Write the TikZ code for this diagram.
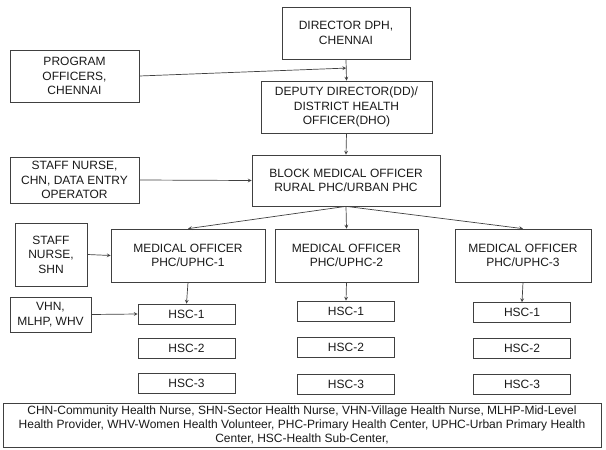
\documentclass[tikz,border=0pt]{standalone}
\usepackage{fontspec}
\setmainfont{Liberation Sans}
\usetikzlibrary{arrows, positioning, calc}
\tikzset{
    box/.style={rectangle, draw=black!75, line width=0.7pt, align=center, inner sep=1pt, text=black!90, font=\fontsize{12}{14.5}\selectfont},
    hsc/.style={box, minimum width=97pt, minimum height=20pt},
    legend/.style={box, minimum width=598pt, minimum height=44pt, font=\fontsize{12}{14}\selectfont},
    arrow/.style={draw=black!75, line width=0.7pt, ->, >=stealth}
}

\begin{document}
\begin{tikzpicture}[x=1pt, y=-1pt, node distance=14pt]
    \useasboundingbox (0,0) rectangle (606,450);
    \node (dir) [box, minimum width=128pt, minimum height=52pt] at (346,33) {DIRECTOR DPH,\\CHENNAI};
    \node (prog) [box, minimum width=129pt, minimum height=52pt] at (74.5,76) {PROGRAM\\OFFICERS,\\CHENNAI};
    \node (dep) [box, minimum width=171pt, minimum height=52pt] at (346.5,107) {DEPUTY DIRECTOR(DD)/\\DISTRICT HEALTH\\OFFICER(DHO)};
    \node (chn) [box, minimum width=129pt, minimum height=46pt] at (74.5,180) {STAFF NURSE,\\CHN, DATA ENTRY\\OPERATOR};
    \node (bmo) [box, minimum width=188pt, minimum height=51pt] at (346,180.5) {BLOCK MEDICAL OFFICER\\RURAL PHC/URBAN PHC};
    \node (shn) [box, minimum width=72pt, minimum height=63pt] at (51,254.5) {STAFF\\NURSE,\\SHN};
    \node (mo1) [box, minimum width=154pt, minimum height=53pt] at (188,255.5) {MEDICAL OFFICER\\PHC/UPHC-1};
    \node (mo2) [box, minimum width=143pt, minimum height=53pt] at (346.5,255.5) {MEDICAL OFFICER\\PHC/UPHC-2};
    \node (mo3) [box, minimum width=136pt, minimum height=53pt] at (523,255.5) {MEDICAL OFFICER\\PHC/UPHC-3};
    \node (vhn) [box, minimum width=81pt, minimum height=35pt] at (50.5,314.5) {VHN,\\MLHP, WHV};

    % health sub-centres under each PHC
    \node (hsc11) [hsc] at (186.5,314) {HSC-1};
    \node (hsc12) [hsc, below=of hsc11] {HSC-2};
    \node (hsc13) [hsc, below=of hsc12] {HSC-3};
    \node (hsc21) [hsc] at (346,311) {HSC-1};
    \node (hsc22) [hsc, below=16pt of hsc21] {HSC-2};
    \node (hsc23) [hsc, below=16pt of hsc22] {HSC-3};
    \node (hsc31) [hsc] at (522,312.5) {HSC-1};
    \node (hsc32) [hsc, below=15pt of hsc31] {HSC-2};
    \node (hsc33) [hsc, below=15pt of hsc32] {HSC-3};

    \node (abbr) [legend] at (302,425) {CHN-Community Health Nurse, SHN-Sector Health Nurse, VHN-Village Health Nurse, MLHP-Mid-Level\\Health Provider, WHV-Women Health Volunteer, PHC-Primary Health Center, UPHC-Urban Primary Health\\Center, HSC-Health Sub-Center,};

    \coordinate (join) at ($(dir.south)!0.41!(dep.north)$);
    \draw [arrow] (dir.south) -- (dep.north);
    \draw [arrow] (prog.east) -- (join);
    \draw [arrow] (dep.south) -- (bmo.north);
    \draw [arrow] (chn.east) -- (bmo.west);
    \draw [arrow] (bmo.south) -- (mo1.north);
    \draw [arrow] (bmo.south) -- (mo2.north);
    \draw [arrow] (bmo.south) -- (mo3.north);
    \draw [arrow] (shn.east) -- (mo1.west);
    \draw [arrow] (vhn.east) -- (hsc11.west);
    \draw [arrow] (mo1.south) -- (hsc11.north);
    \draw [arrow] (mo2.south) -- (hsc21.north);
    \draw [arrow] (mo3.south) -- (hsc31.north);
\end{tikzpicture}
\end{document}
